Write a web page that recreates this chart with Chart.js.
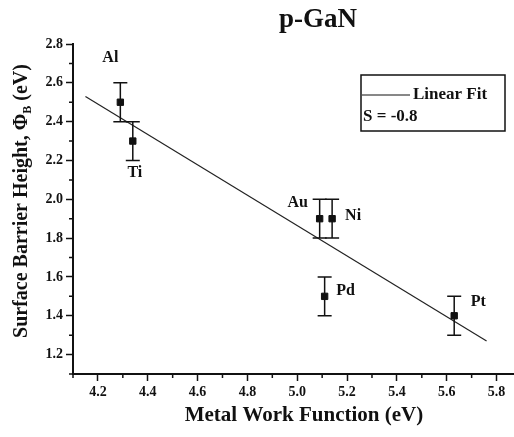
<!DOCTYPE html>
<html>
<head>
<meta charset="utf-8">
<script src="https://cdn.jsdelivr.net/npm/chart.js@4.4.1/dist/chart.umd.min.js"></script>
<style>
  html, body { margin: 0; padding: 0; background: #fff; }
  #wrap { width: 514px; height: 437px; }
</style>
</head>
<body>
<div id="wrap"><canvas id="chart" width="514" height="437"></canvas></div>
<script>
// Messdaten
const metals = ['Al', 'Ti', 'Au', 'Ni', 'Pd', 'Pt'];
const workFunction = [4.29, 4.34, 5.09, 5.14, 5.11, 5.63];
const barrierHeight = [2.5, 2.3, 1.9, 1.9, 1.5, 1.4];
const barrierError = [0.1, 0.1, 0.1, 0.1, 0.1, 0.1];

// lineare Anpassung (Endpunkte aus dem Bild gelesen)
const fitX = [4.15, 5.76];
const fitY = [2.53, 1.27];

const xTicks = [4.2, 4.4, 4.6, 4.8, 5.0, 5.2, 5.4, 5.6, 5.8];
const yTicks = [1.2, 1.4, 1.6, 1.8, 2.0, 2.2, 2.4, 2.6, 2.8];

// Beschriftung: Versatz der Metallnamen in Pixeln
const labelOffset = [[-10, -44], [2, 32], [-22, -16], [21, -3], [21, -5], [24, -14]];

const serif = '"Liberation Serif", "Times New Roman", serif';
const tickFont = { family: serif, size: 14, weight: 'bold' };

const extras = {
  id: 'extras',
  afterDatasetsDraw(chart) {
    const ctx = chart.ctx;
    const xs = chart.scales.x, ys = chart.scales.y;
    const area = chart.chartArea;
    ctx.save();
    ctx.strokeStyle = '#111';
    ctx.fillStyle = '#111';

    // Fehlerbalken
    ctx.lineWidth = 1.5;
    workFunction.forEach((wf, i) => {
      const px = xs.getPixelForValue(wf);
      const top = ys.getPixelForValue(barrierHeight[i] + barrierError[i]);
      const bot = ys.getPixelForValue(barrierHeight[i] - barrierError[i]);
      ctx.beginPath();
      ctx.moveTo(px, top); ctx.lineTo(px, bot);
      ctx.moveTo(px - 7, top); ctx.lineTo(px + 7, top);
      ctx.moveTo(px - 7, bot); ctx.lineTo(px + 7, bot);
      ctx.stroke();
    });

    // Metallnamen
    ctx.font = 'bold 16px ' + serif;
    ctx.textAlign = 'center';
    ctx.textBaseline = 'middle';
    metals.forEach((m, i) => {
      const px = xs.getPixelForValue(workFunction[i]) + labelOffset[i][0];
      const py = ys.getPixelForValue(barrierHeight[i]) + labelOffset[i][1];
      ctx.fillText(m, px, py);
    });

    // Nebenteilstriche
    ctx.lineWidth = 1.5;
    ctx.beginPath();
    for (let v = 4.1; v < xs.max + 1e-6; v += 0.2) {
      const px = xs.getPixelForValue(v);
      ctx.moveTo(px, area.bottom); ctx.lineTo(px, area.bottom + 4);
    }
    for (let v = 1.1; v < ys.max; v += 0.2) {
      const py = ys.getPixelForValue(v);
      ctx.moveTo(area.left, py); ctx.lineTo(area.left - 4, py);
    }
    ctx.stroke();

    // Titel
    ctx.font = 'bold 27px ' + serif;
    ctx.fillText('p-GaN', 318, 20);

    // x-Achsentitel
    ctx.font = 'bold 21px ' + serif;
    ctx.fillText('Metal Work Function (eV)', 304, 416);

    // y-Achsentitel mit Index
    ctx.translate(22, 201);
    ctx.rotate(-Math.PI / 2);
    const main = 'Surface Barrier Height, \u03A6';
    const tail = ' (eV)';
    ctx.font = 'bold 20px ' + serif;
    const w1 = ctx.measureText(main).width;
    const w3 = ctx.measureText(tail).width;
    ctx.font = 'bold 12px ' + serif;
    const w2 = ctx.measureText('B').width;
    let sx = -(w1 + w2 + w3) / 2;
    ctx.textAlign = 'left';
    ctx.font = 'bold 20px ' + serif;
    ctx.fillText(main, sx, 0);
    ctx.font = 'bold 12px ' + serif;
    ctx.fillText('B', sx + w1, 6);
    ctx.font = 'bold 20px ' + serif;
    ctx.fillText(tail, sx + w1 + w2, 0);
    ctx.restore();

    // Legendenkasten
    ctx.save();
    ctx.strokeStyle = '#111';
    ctx.fillStyle = '#111';
    ctx.lineWidth = 1.5;
    ctx.strokeRect(361, 75, 144, 56);
    ctx.lineWidth = 1;
    ctx.beginPath();
    ctx.moveTo(362, 95); ctx.lineTo(410, 95);
    ctx.stroke();
    ctx.font = 'bold 17px ' + serif;
    ctx.textBaseline = 'middle';
    ctx.fillText('Linear Fit', 413, 95);
    ctx.fillText('S = -0.8', 363, 117);
    ctx.restore();
  }
};

const ctx = document.getElementById('chart').getContext('2d');
const chart = new Chart(ctx, {
  type: 'scatter',
  data: {
    datasets: [{
      label: 'Messwerte',
      data: workFunction.map((x, i) => ({ x: x, y: barrierHeight[i] })),
      pointStyle: 'rect',
      pointRadius: 4.5,
      backgroundColor: '#111',
      borderColor: '#111',
      showLine: false
    }, {
      label: 'Linear Fit',
      data: fitX.map((x, i) => ({ x: x, y: fitY[i] })),
      showLine: true,
      pointRadius: 0,
      borderColor: '#222',
      borderWidth: 1.2,
      fill: false
    }]
  },
  options: {
    responsive: false,
    animation: false,
    layout: { autoPadding: false, padding: { top: 44, right: 0, left: 0, bottom: 0 } },
    plugins: {
      legend: { display: false },
      tooltip: { enabled: false }
    },
    scales: {
      x: {
        type: 'linear',
        min: 4.1,
        max: 5.87,
        afterFit: s => { s.height = 63; },
        afterBuildTicks: s => { s.ticks = xTicks.map(v => ({ value: v })); },
        border: { display: true, color: '#111', width: 2 },
        grid: { drawOnChartArea: false, drawTicks: true, tickLength: 7, tickColor: '#111', tickWidth: 1.5 },
        ticks: { color: '#111', font: tickFont, padding: 3, maxRotation: 0,
          callback: v => v.toFixed(1) }
      },
      y: {
        type: 'linear',
        min: 1.1,
        max: 2.8,
        afterFit: s => { s.width = 73; },
        afterBuildTicks: s => { s.ticks = yTicks.map(v => ({ value: v })); },
        border: { display: true, color: '#111', width: 2 },
        grid: { drawOnChartArea: false, drawTicks: true, tickLength: 7, tickColor: '#111', tickWidth: 1.5 },
        ticks: { color: '#111', font: tickFont, padding: 3,
          callback: v => v.toFixed(1) }
      }
    }
  },
  plugins: [extras]
});
</script>
</body>
</html>
